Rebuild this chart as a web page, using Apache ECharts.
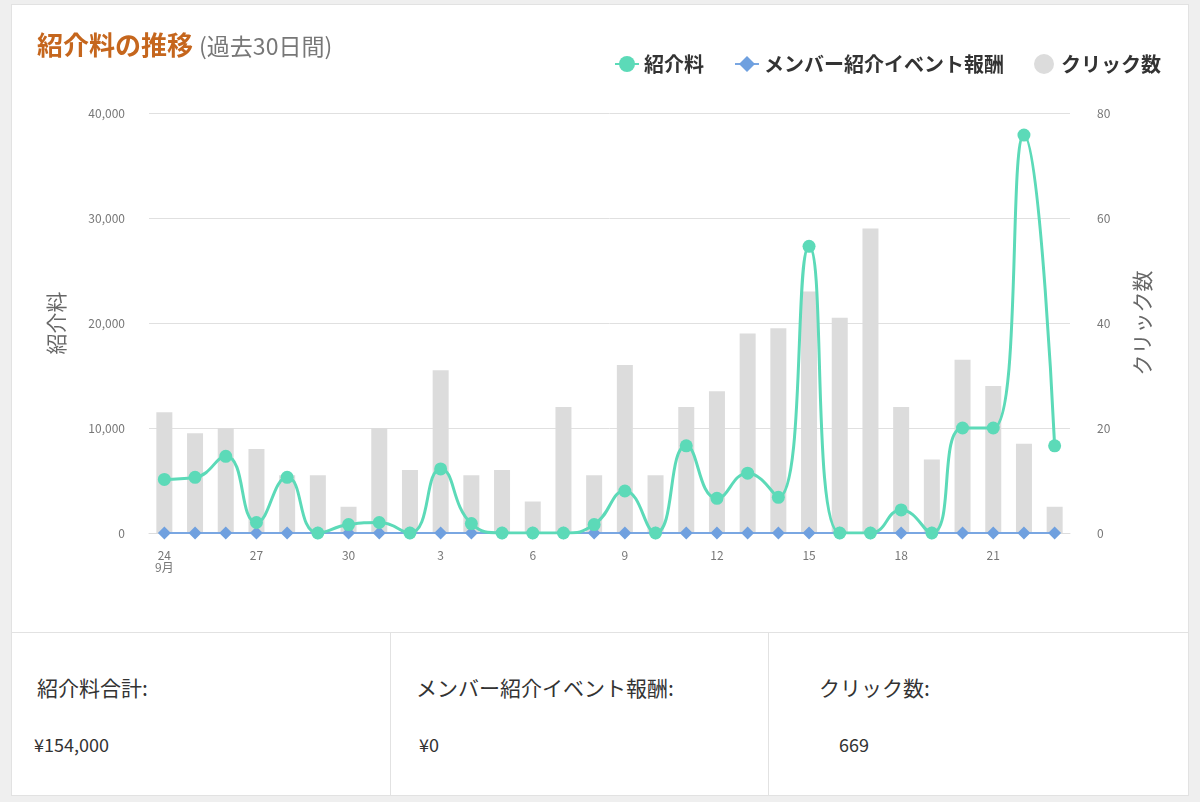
<!DOCTYPE html>
<html>
<head>
<meta charset="utf-8">
<script src="https://cdn.jsdelivr.net/npm/echarts@6/dist/echarts.min.js"></script>
<style>
  html, body { margin: 0; padding: 0; background: #efefef; font-family: "Noto Sans CJK JP", "Noto Sans", sans-serif; }
  .card { position: absolute; background: #fff; border: 1px solid #e2e2e2; box-sizing: border-box; }
  .lbl { position: absolute; font-size: 21px; color: #333; }
  .val { position: absolute; font-size: 18px; color: #333; }
  #main { position: absolute; left: 0; top: 0; width: 1200px; height: 802px; }
</style>
</head>
<body>
<div class="card" style="left:11px;top:4px;width:1178px;height:629px;"></div>
<div class="card" style="left:11px;top:632px;width:380px;height:164px;">
  <div class="lbl" style="left:25px;top:39px;">紹介料合計:</div>
  <div class="val" id="sum1" style="left:22px;top:98px;"></div>
</div>
<div class="card" style="left:390px;top:632px;width:379px;height:164px;">
  <div class="lbl" style="left:25px;top:39px;">メンバー紹介イベント報酬:</div>
  <div class="val" id="sum2" style="left:28px;top:98px;"></div>
</div>
<div class="card" style="left:768px;top:632px;width:421px;height:164px;">
  <div class="lbl" style="left:50px;top:39px;">クリック数:</div>
  <div class="val" id="sum3" style="left:70px;top:98px;"></div>
</div>
<div id="main"></div>
<script>
// 過去30日間の日付
var days = ['9/24', '9/25', '9/26', '9/27', '9/28', '9/29', '9/30',
    '10/1', '10/2', '10/3', '10/4', '10/5', '10/6', '10/7', '10/8', '10/9', '10/10',
    '10/11', '10/12', '10/13', '10/14', '10/15', '10/16', '10/17', '10/18', '10/19',
    '10/20', '10/21', '10/22', '10/23'];

// 紹介料
var fees = [5100, 5300, 7300, 1000, 5300, 0, 800, 1000, 0, 6100,
    900, 0, 0, 0, 800, 4000, 0, 8300, 3300, 5700,
    3400, 27300, 0, 0, 2200, 0, 10000, 10000, 37900, 8300];

// メンバー紹介イベント報酬
var rewards = [0, 0, 0, 0, 0, 0, 0, 0, 0, 0,
    0, 0, 0, 0, 0, 0, 0, 0, 0, 0,
    0, 0, 0, 0, 0, 0, 0, 0, 0, 0];

// クリック数
var clicks = [23, 19, 20, 16, 11, 11, 5, 20, 12, 31,
    11, 12, 6, 24, 11, 32, 11, 24, 27, 38,
    39, 46, 41, 58, 24, 14, 33, 28, 17, 5];

var feeTicks = [0, 10000, 20000, 30000, 40000];
var clickTicks = [0, 20, 40, 60, 80];

function sum(a) { return a.reduce(function (s, v) { return s + v; }, 0); }
document.getElementById('sum1').textContent = '¥' + sum(fees).toLocaleString('en-US');
document.getElementById('sum2').textContent = '¥' + sum(rewards).toLocaleString('en-US');
document.getElementById('sum3').textContent = sum(clicks);

var myChart = echarts.init(document.getElementById('main'));

var font = '"Noto Sans CJK JP", "Noto Sans", sans-serif';

option = {
    textStyle: { fontFamily: font },
    title: {
        left: 32,
        top: 27,
        text: '{a|紹介料の推移} {b|(過去30日間)}',
        textStyle: {
            rich: {
                a: { fontSize: 26, fontWeight: 'bold', color: '#c5661d', fontFamily: font },
                b: { fontSize: 23, fontWeight: 'normal', color: '#777', fontFamily: font, padding: [3, 0, 0, 2] }
            }
        }
    },
    legend: {
        right: 34,
        top: 49,
        itemGap: 30,
        itemWidth: 24,
        itemHeight: 20,
        textStyle: { fontSize: 20, fontWeight: 'bold', color: '#333', fontFamily: font },
        data: [
            { name: '紹介料' },
            { name: 'メンバー紹介イベント報酬' },
            { name: 'クリック数', icon: 'circle' }
        ]
    },
    grid: {
        left: 149,
        right: 130,
        top: 113,
        bottom: 269
    },
    xAxis: {
        type: 'category',
        data: days,
        axisTick: { show: false },
        axisLine: { lineStyle: { color: '#dddddd' } },
        axisLabel: {
            interval: 2,
            margin: 16,
            color: '#777',
            fontSize: 12,
            formatter: function (v, i) {
                var d = v.split('/');
                return i === 0 ? d[1] + '\n' + d[0] + '月' : d[1];
            }
        }
    },
    yAxis: [
        {
            type: 'value',
            name: '紹介料',
            nameLocation: 'middle',
            nameGap: 82,
            nameTextStyle: { fontSize: 21, color: '#666' },
            min: feeTicks[0],
            max: feeTicks[feeTicks.length - 1],
            interval: feeTicks[1] - feeTicks[0],
            axisLine: { show: false },
            axisTick: { show: false },
            axisLabel: {
                margin: 24,
                color: '#777',
                fontSize: 12,
                formatter: function (v) { return v.toLocaleString('en-US'); }
            },
            splitLine: { lineStyle: { color: '#e0e0e0' } }
        },
        {
            type: 'value',
            name: 'クリック数',
            nameLocation: 'middle',
            nameGap: 62,
            nameTextStyle: { fontSize: 21, color: '#666' },
            min: clickTicks[0],
            max: clickTicks[clickTicks.length - 1],
            interval: clickTicks[1] - clickTicks[0],
            axisLine: { show: false },
            axisTick: { show: false },
            axisLabel: { margin: 27, color: '#777', fontSize: 12 },
            splitLine: { show: false }
        }
    ],
    series: [
        {
            name: 'クリック数',
            type: 'bar',
            yAxisIndex: 1,
            barWidth: 16,
            itemStyle: { color: '#dcdcdc' },
            data: clicks
        },
        {
            name: 'メンバー紹介イベント報酬',
            type: 'line',
            yAxisIndex: 0,
            symbol: 'diamond',
            symbolSize: 13,
            itemStyle: { color: '#6fa0df' },
            lineStyle: { width: 2, color: '#7aa7e2' },
            data: rewards
        },
        {
            name: '紹介料',
            type: 'line',
            yAxisIndex: 0,
            smooth: 0.5,
            symbol: 'circle',
            symbolSize: 13,
            itemStyle: { color: '#5cdab8' },
            lineStyle: { width: 3, color: '#5cdab8' },
            data: fees
        }
    ]
};

myChart.setOption(option);
</script>
</body>
</html>
